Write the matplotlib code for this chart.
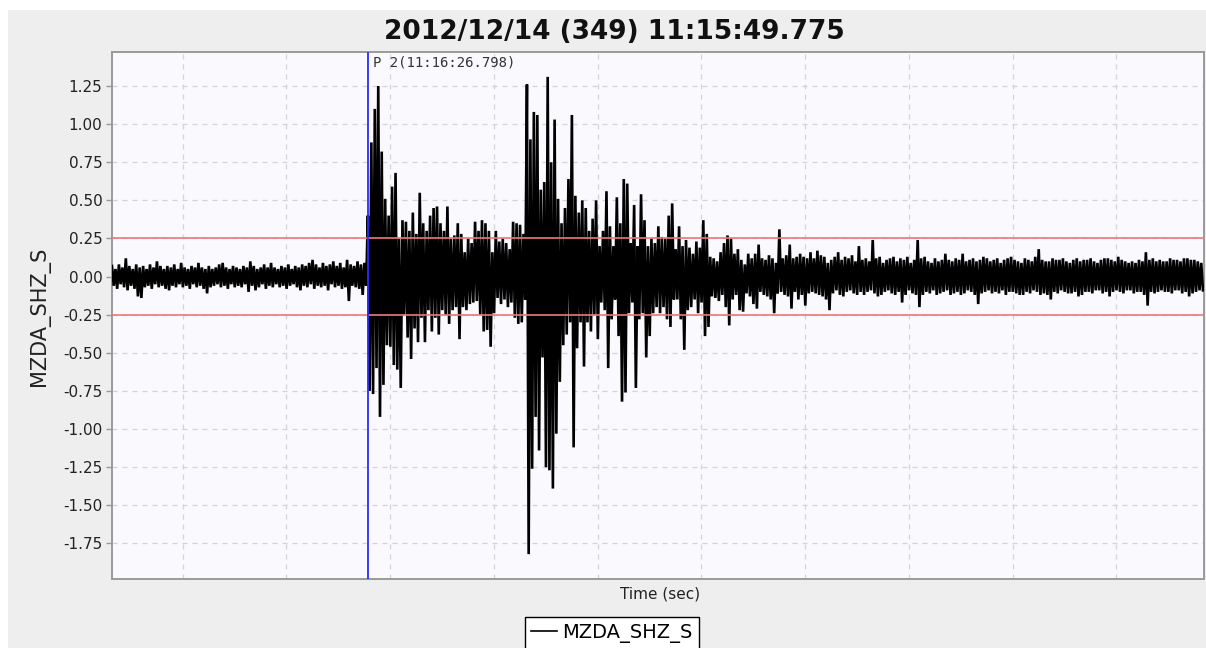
import numpy as np
import matplotlib
matplotlib.use("Agg")
import matplotlib.pyplot as plt
from matplotlib.lines import Line2D
from matplotlib.patches import Rectangle

# trace MZDA_SHZ_S, start 2012/12/14 11:15:49.775
station = "MZDA_SHZ_S"
title = "2012/12/14 (349) 11:15:49.775"
pick_label = "P 2(11:16:26.798)"
pick_time = 37.023          # s after trace start
threshold = 0.25            # red guide lines at +/- this level
dt = 0.5                    # one peak/trough pair per half second
first_grid = 10.225         # 11:16:00 relative to the start
grid_step = 15.0
t_end = 157.9

# positive and negative peaks, pre-event noise (0 - 36.5 s)
pre_hi = [0.07, 0.05, 0.08, 0.06, 0.12, 0.07, 0.05, 0.08, 0.06, 0.07,
          0.05, 0.08, 0.06, 0.10, 0.07, 0.05, 0.07, 0.06, 0.08, 0.05,
          0.09, 0.06, 0.05, 0.07, 0.06, 0.09, 0.06, 0.05, 0.07, 0.05,
          0.06, 0.08, 0.09, 0.06, 0.05, 0.07, 0.06, 0.05, 0.07, 0.06,
          0.10, 0.07, 0.05, 0.06, 0.08, 0.06, 0.09, 0.06, 0.05, 0.07,
          0.06, 0.08, 0.05, 0.07, 0.06, 0.08, 0.07, 0.09, 0.11, 0.08,
          0.06, 0.09, 0.07, 0.08, 0.10, 0.07, 0.09, 0.06, 0.11, 0.08,
          0.07, 0.10, 0.08, 0.09]
pre_lo = [-0.06, -0.08, -0.05, -0.07, -0.09, -0.06, -0.08, -0.13, -0.14, -0.07,
          -0.06, -0.08, -0.05, -0.07, -0.06, -0.08, -0.09, -0.06, -0.07, -0.05,
          -0.07, -0.06, -0.08, -0.05, -0.07, -0.06, -0.08, -0.11, -0.07, -0.06,
          -0.05, -0.07, -0.06, -0.08, -0.05, -0.07, -0.06, -0.07, -0.05, -0.10,
          -0.06, -0.09, -0.07, -0.05, -0.08, -0.06, -0.07, -0.05, -0.07, -0.06,
          -0.08, -0.06, -0.05, -0.07, -0.09, -0.06, -0.07, -0.05, -0.08, -0.06,
          -0.07, -0.06, -0.09, -0.05, -0.07, -0.06, -0.08, -0.07, -0.16, -0.06,
          -0.07, -0.08, -0.12, -0.06]

# P arrival and main shaking (37.0 - 86.0 s)
event_hi = [0.40, 0.88, 1.10, 1.25, 0.82, 0.51, 0.40, 0.59, 0.68, 0.25,
            0.37, 0.36, 0.30, 0.42, 0.28, 0.55, 0.35, 0.30, 0.40, 0.45,
            0.46, 0.35, 0.30, 0.46, 0.25, 0.27, 0.35, 0.28, 0.16, 0.25,
            0.22, 0.36, 0.30, 0.37, 0.35, 0.30, 0.16, 0.30, 0.23, 0.25,
            0.22, 0.18, 0.36, 0.35, 0.34, 0.28, 1.26, 0.90, 1.08, 1.06,
            0.57, 0.62, 1.31, 0.75, 1.03, 0.51, 0.35, 0.45, 0.64, 1.06,
            0.53, 0.42, 0.50, 0.45, 0.30, 0.38, 0.50, 0.20, 0.30, 0.56,
            0.33, 0.20, 0.52, 0.35, 0.64, 0.61, 0.22, 0.47, 0.20, 0.54,
            0.37, 0.20, 0.25, 0.22, 0.33, 0.26, 0.25, 0.40, 0.48, 0.18,
            0.33, 0.20, 0.24, 0.19, 0.15, 0.23, 0.19, 0.37, 0.28]
event_lo = [-0.75, -0.77, -0.60, -0.92, -0.71, -0.45, -0.46, -0.58, -0.61, -0.73,
            -0.25, -0.40, -0.54, -0.34, -0.43, -0.27, -0.43, -0.22, -0.36, -0.27,
            -0.38, -0.22, -0.25, -0.31, -0.22, -0.20, -0.41, -0.20, -0.22, -0.18,
            -0.17, -0.16, -0.25, -0.36, -0.35, -0.46, -0.24, -0.14, -0.18, -0.15,
            -0.20, -0.17, -0.27, -0.31, -0.30, -0.15, -1.82, -1.26, -0.92, -1.14,
            -0.53, -1.25, -1.27, -1.39, -1.03, -0.69, -0.45, -0.38, -0.30, -1.12,
            -0.47, -0.30, -0.59, -0.30, -0.36, -0.25, -0.41, -0.17, -0.22, -0.60,
            -0.28, -0.15, -0.39, -0.82, -0.76, -0.24, -0.17, -0.73, -0.28, -0.24,
            -0.53, -0.39, -0.24, -0.20, -0.24, -0.20, -0.28, -0.33, -0.15, -0.15,
            -0.28, -0.48, -0.22, -0.20, -0.15, -0.24, -0.17, -0.39, -0.33]

# coda (86.5 - 157.5 s)
coda_hi = [0.13, 0.12, 0.10, 0.16, 0.22, 0.27, 0.25, 0.15, 0.18, 0.11,
           0.08, 0.15, 0.12, 0.15, 0.21, 0.12, 0.11, 0.14, 0.12, 0.09,
           0.31, 0.12, 0.14, 0.21, 0.12, 0.13, 0.15, 0.13, 0.12, 0.16,
           0.12, 0.17, 0.14, 0.13, 0.09, 0.11, 0.13, 0.16, 0.11, 0.13,
           0.12, 0.14, 0.10, 0.20, 0.11, 0.12, 0.10, 0.24, 0.12, 0.13,
           0.09, 0.11, 0.12, 0.13, 0.10, 0.12, 0.11, 0.13, 0.09, 0.11,
           0.24, 0.12, 0.13, 0.10, 0.09, 0.12, 0.10, 0.11, 0.15, 0.11,
           0.10, 0.12, 0.11, 0.15, 0.10, 0.11, 0.12, 0.10, 0.11, 0.13,
           0.12, 0.10, 0.11, 0.12, 0.09, 0.11, 0.12, 0.13, 0.11, 0.10,
           0.09, 0.12, 0.11, 0.10, 0.13, 0.18, 0.11, 0.10, 0.10, 0.12,
           0.11, 0.11, 0.12, 0.10, 0.09, 0.11, 0.12, 0.10, 0.11, 0.11,
           0.12, 0.10, 0.09, 0.11, 0.12, 0.12, 0.11, 0.10, 0.13, 0.11,
           0.10, 0.09, 0.10, 0.09, 0.11, 0.10, 0.16, 0.11, 0.12, 0.10,
           0.11, 0.10, 0.10, 0.12, 0.11, 0.11, 0.10, 0.12, 0.12, 0.11,
           0.11, 0.10, 0.09]
coda_lo = [-0.13, -0.14, -0.16, -0.12, -0.20, -0.32, -0.15, -0.12, -0.22, -0.23,
           -0.11, -0.13, -0.18, -0.21, -0.10, -0.12, -0.13, -0.15, -0.24, -0.11,
           -0.10, -0.12, -0.13, -0.21, -0.10, -0.15, -0.12, -0.19, -0.11, -0.10,
           -0.11, -0.12, -0.13, -0.15, -0.22, -0.11, -0.09, -0.12, -0.13, -0.10,
           -0.09, -0.11, -0.12, -0.10, -0.12, -0.10, -0.09, -0.11, -0.13, -0.12,
           -0.10, -0.09, -0.11, -0.12, -0.10, -0.17, -0.12, -0.09, -0.11, -0.12,
           -0.20, -0.12, -0.10, -0.11, -0.09, -0.12, -0.11, -0.10, -0.09, -0.12,
           -0.11, -0.10, -0.12, -0.11, -0.09, -0.10, -0.12, -0.18, -0.11, -0.10,
           -0.09, -0.11, -0.10, -0.11, -0.09, -0.12, -0.10, -0.10, -0.11, -0.12,
           -0.12, -0.10, -0.11, -0.09, -0.10, -0.12, -0.11, -0.12, -0.15, -0.10,
           -0.11, -0.09, -0.10, -0.11, -0.11, -0.10, -0.13, -0.12, -0.10, -0.10,
           -0.11, -0.09, -0.09, -0.11, -0.10, -0.13, -0.10, -0.09, -0.10, -0.11,
           -0.09, -0.09, -0.11, -0.10, -0.10, -0.12, -0.19, -0.10, -0.11, -0.10,
           -0.09, -0.10, -0.10, -0.11, -0.09, -0.09, -0.11, -0.10, -0.13, -0.11,
           -0.10, -0.09, -0.09]

hi = np.array(pre_hi + event_hi + coda_hi)
lo = np.array(pre_lo + event_lo + coda_lo)
assert len(hi) == len(lo)
t = np.arange(len(hi)) * dt

# alternate peak / trough so the line swings like the raw trace
tx = np.empty(2 * len(t))
ty = np.empty(2 * len(t))
tx[0::2] = t
tx[1::2] = t + dt / 2
ty[0::2] = hi
ty[1::2] = lo

plt.rcParams['font.family'] = ['DejaVu Sans']
fig = plt.figure(figsize=(12.06, 6.48), dpi=100, facecolor='white')
fig.patches.append(Rectangle((8 / 1206, 0), 1, 1 - 10 / 648, transform=fig.transFigure,
                             facecolor='#eeeeee', edgecolor='none', zorder=-10))

ax = fig.add_axes([112 / 1206, 69 / 648, 1092 / 1206, 527 / 648])
ax.set_facecolor('#f9f9fe')

ax.plot(tx, ty, color='black', lw=1.9, solid_joinstyle='miter', zorder=3)
for lvl in (threshold, -threshold):
    ax.axhline(lvl, color='#ee7777', lw=1.2, zorder=4)
ax.axvline(pick_time, color='#2b2bff', lw=1.3, zorder=5)
ax.text(pick_time + 0.7, 0.981, pick_label, transform=ax.get_xaxis_transform(),
        family='DejaVu Sans Mono', fontsize=10, color='#333333', va='center', ha='left')

ax.set_xlim(0, t_end)
ax.set_ylim(-1.983, 1.473)
ax.set_xticks(np.arange(first_grid, t_end, grid_step))
ax.set_yticks(np.arange(-1.75, 1.26, 0.25))
ax.yaxis.set_major_formatter(matplotlib.ticker.FormatStrFormatter('%.2f'))
ax.tick_params(axis='x', length=0, labelbottom=False)
ax.tick_params(axis='y', length=4, width=1, color='#999999', labelsize=11,
               labelcolor='#222222', pad=3)
ax.grid(True, color='#d4d4d4', linestyle=(0, (4, 4)), lw=0.9, zorder=0)
for s in ax.spines.values():
    s.set_color('#9a9a9a')
    s.set_linewidth(1.4)

fig.text(614 / 1206, 1 - 32 / 648, title, ha='center', va='center',
         fontsize=19, fontweight='bold', color='#111111')
fig.text(40 / 1206, 1 - 316 / 648, station, rotation=90, ha='center', va='center',
         fontsize=15, color='#222222')
fig.text(660 / 1206, 1 - 594 / 648, "Time (sec)", ha='center', va='center',
         fontsize=11, color='#222222')

handle = Line2D([], [], color='black', lw=1.2)
leg = fig.legend([handle], [station], loc='upper center',
                 bbox_to_anchor=(612 / 1206, 1 - 617 / 648), fontsize=14,
                 handlelength=1.3, handletextpad=0.3, borderpad=0.3, borderaxespad=0,
                 fancybox=False, framealpha=1, edgecolor='black')
leg.get_frame().set_linewidth(1.0)

fig.savefig('out.png', dpi=100, facecolor=fig.get_facecolor())
